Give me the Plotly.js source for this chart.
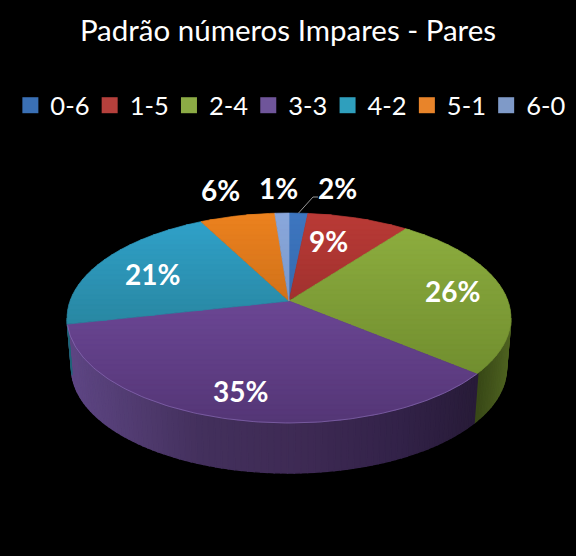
<!DOCTYPE html>
<html>
<head>
<meta charset="utf-8">
<script src="https://cdn.plot.ly/plotly-3.0.1.min.js"></script>
<style>html,body{margin:0;padding:0;background:#000}</style>
</head>
<body>
<div id="chart" style="width:576px;height:556px"></div>
<script>
// Data
const categories = ['0-6','1-5','2-4','3-3','4-2','5-1','6-0'];
const values = [1.6,8.7,25.75,35.45,20.9,6.4,1.2];
const chartTitle = 'Padrão números Impares - Pares';

// Styles
const swatchColors = ['#3a70b5','#b5403c','#8cab45','#6f559a','#2f9fbd','#e8842a','#7f9ac8'];
const topColors = [[62,118,192],[186,58,54],[143,176,64],[124,82,170],[48,163,204],[236,130,30],[138,168,220]];
const botColors = [[40,90,150],[125,38,36],[104,132,42],[84,54,118],[34,110,125],[170,90,20],[100,130,180]];
const labelPos = [[337,188],[328,241],[452,291],[240,391],[152,274],[220,190],[278,188]];
const wallStops = {
  2:[[475,[54,69,22]],[510,[78,98,32]]],
  3:[[67,[94,70,132]],[200,[67,48,92]],[300,[62,42,84]],[400,[50,34,72]],[475,[40,27,56]]],
  4:[[60,[30,100,120]],[80,[30,100,120]]]
};
const pie = {cx:289, cy:301, B:219, A:102.2, k:0.162, depth:50, shrink:0.98, band:5, step:1.5};

// Projection of a pie angle (clockwise from top, degrees) on to the tilted disc
function proj(deg){
  const t = deg*Math.PI/180, s = Math.cos(t), c = Math.sin(t), d = 1+pie.k*s;
  return [pie.cx+pie.B*c/d, pie.cy-pie.A*s/d];
}
function lower(p){ return [pie.cx+(p[0]-pie.cx)*pie.shrink, p[1]+pie.depth]; }
function mix(a,b,t){ return 'rgb('+a.map((v,i)=>Math.round(v+(b[i]-v)*t)).join(',')+')'; }
function clipY(poly,y,keepBelow){
  const out=[]; const inside=p=>keepBelow?p[1]>=y:p[1]<=y;
  for(let i=0;i<poly.length;i++){
    const a=poly[i], b=poly[(i+1)%poly.length];
    if(inside(a)) out.push(a);
    if(inside(a)!==inside(b)){
      const t=(y-a[1])/(b[1]-a[1]);
      out.push([a[0]+(b[0]-a[0])*t,y]);
    }
  }
  return out;
}
function polyTrace(poly,color,w){
  const p=poly.concat([poly[0]]);
  return {type:'scatter',mode:'lines',x:p.map(q=>q[0]),y:p.map(q=>q[1]),fill:'toself',fillcolor:color,
    line:{color:color,width:w===undefined?0.7:w},hoverinfo:'skip',showlegend:false};
}

const total = values.reduce((a,b)=>a+b,0);
const edges = [0];
values.forEach(v=>edges.push(edges[edges.length-1]+v/total*360));
const traces = [];

// Side wall
const wStart = Math.acos(-pie.k)*180/Math.PI, wEnd = 360-wStart;
for(let a=wStart;a<wEnd;a+=pie.step){
  const b=Math.min(a+pie.step,wEnd), m=(a+b)/2;
  let idx=edges.findIndex((e,i)=>i<values.length&&m>=e&&m<edges[i+1]);
  const stops=wallStops[idx]||wallStops[4];
  const p1=proj(a),p2=proj(b);
  const xm=(p1[0]+p2[0])/2;
  let col=stops[0][1], colEnd=stops[0][1], t=0;
  for(let i=0;i<stops.length-1;i++){
    if(xm>=stops[i][0]){col=stops[i][1];colEnd=stops[i+1][1];t=Math.min(1,(xm-stops[i][0])/(stops[i+1][0]-stops[i][0]));}
  }
  traces.push(polyTrace([p1,p2,lower(p2),lower(p1)],mix(col,colEnd,t),1.4));
}

// Top face: each wedge shaded in thin horizontal bands
const yTop=213, yBot=423;
values.forEach((v,i)=>{
  const wedge=[[pie.cx,pie.cy]];
  for(let a=edges[i];a<edges[i+1];a+=0.5) wedge.push(proj(a));
  wedge.push(proj(edges[i+1]));
  for(let y=yTop-3;y<yBot+3;y+=pie.band){
    let poly=clipY(wedge,y,true);
    if(poly.length) poly=clipY(poly,y+pie.band,false);
    if(poly.length>2){
      const t=Math.max(0,Math.min(1,(y+pie.band/2-yTop)/(yBot-yTop)));
      traces.push(polyTrace(poly,mix(topColors[i],botColors[i],t)));
    }
  }
});

// Rim highlight
const rim=[]; for(let a=edges[3];a<=Math.min(edges[4],wEnd);a+=1) rim.push(proj(a));
traces.push({type:'scatter',mode:'lines',x:rim.map(p=>p[0]),y:rim.map(p=>p[1]),
  line:{color:'rgba(150,120,195,0.55)',width:1},hoverinfo:'skip',showlegend:false});

// Leader line for the first label
const lead0=proj((edges[0]+edges[1])/2);
traces.push({type:'scatter',mode:'lines',x:[lead0[0],313,318],y:[lead0[1],197,197],
  line:{color:'#bfbfbf',width:0.8},hoverinfo:'skip',showlegend:false});

// Legend entries
categories.forEach((c,i)=>{
  traces.push({type:'scatter',mode:'markers',x:[-100],y:[-100],name:c,
    marker:{symbol:'square',size:16,color:swatchColors[i]},hoverinfo:'skip',showlegend:true});
});

const annotations = categories.map((c,i)=>({
  x:labelPos[i][0],y:labelPos[i][1],xref:'x',yref:'y',showarrow:false,
  text:Math.round(values[i]/total*100)+'%',
  font:{family:'Lato, sans-serif',size:28,color:'#fff',weight:700},xanchor:'center',yanchor:'middle'
}));

const layout = {
  width:576,height:556,margin:{l:0,r:0,t:0,b:0},
  paper_bgcolor:'#000',plot_bgcolor:'#000',
  title:{text:chartTitle,font:{family:'Lato, sans-serif',size:29.5,color:'#fff'},x:0.5,xanchor:'center',y:0.944,yanchor:'middle',xref:'paper',yref:'paper'},
  xaxis:{range:[0,576],visible:false,fixedrange:true},
  yaxis:{range:[556,0],visible:false,fixedrange:true},
  showlegend:true,
  legend:{orientation:'h',x:0.018,xanchor:'left',y:0.81,yanchor:'middle',bgcolor:'rgba(0,0,0,0)',
    font:{family:'Lato, sans-serif',size:25.5,color:'#fff'},itemwidth:30,entrywidth:34.3,entrywidthmode:'pixels',traceorder:'normal',itemclick:false,itemdoubleclick:false},
  annotations:annotations
};
Plotly.newPlot('chart',traces,layout,{displayModeBar:false,staticPlot:true}).then(gd=>{
  // the fixed entry width would otherwise cut off the last legend label
  const box=gd.querySelector('.legend .scrollbox');
  if(box){box.removeAttribute('clip-path');box.style.clipPath='none';}
});
</script>
</body>
</html>
